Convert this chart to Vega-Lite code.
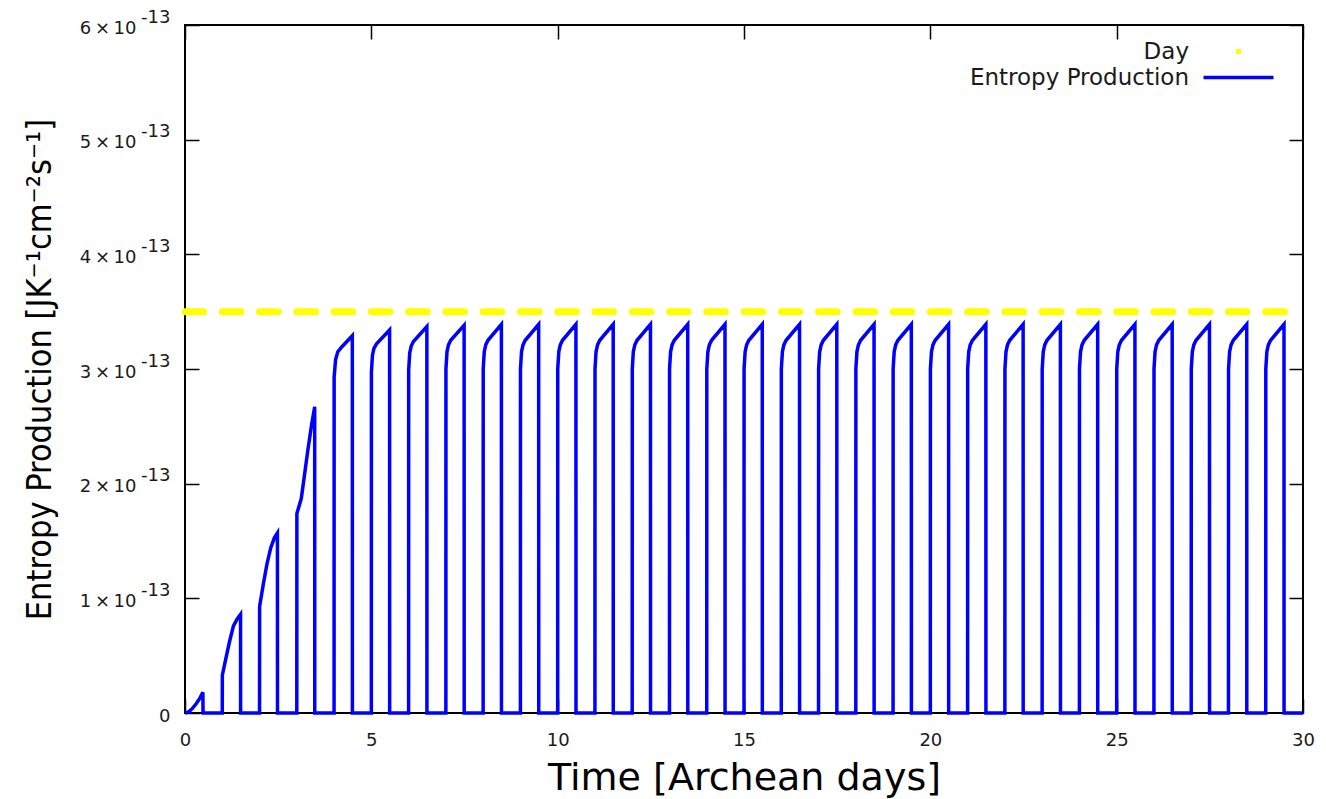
{
  "$schema": "https://vega.github.io/schema/vega-lite/v6.json",
  "width": 1118,
  "height": 688,
  "autosize": "none",
  "padding": {"left": 185, "top": 25, "right": 23, "bottom": 86},
  "background": "white",
  "config": {
    "view": {"stroke": "#000000", "strokeWidth": 2},
    "font": "DejaVu Sans",
    "axis": {"grid": false, "domain": false, "tickColor": "#000000", "tickWidth": 1.5, "labelColor": "#1a1a1a", "titleColor": "#000000", "titleFontWeight": "normal", "labelFont": "DejaVu Sans", "titleFont": "DejaVu Sans"}
  },
  "datasets": {
    "entropy": [
      {"t":0,"s":0},{"t":0.1,"s":0.01e-13},{"t":0.2,"s":0.04e-13},{"t":0.3,"s":0.08e-13},{"t":0.4,"s":0.13e-13},{"t":0.48,"s":0.18e-13},{"t":0.484,"s":0},
      {"t":1,"s":0},{"t":1.002,"s":0.33e-13},{"t":1.1,"s":0.48e-13},{"t":1.2,"s":0.63e-13},{"t":1.3,"s":0.76e-13},{"t":1.4,"s":0.82e-13},{"t":1.49,"s":0.86e-13},{"t":1.492,"s":0},
      {"t":2,"s":0},{"t":2.002,"s":0.93e-13},{"t":2.1,"s":1.12e-13},{"t":2.2,"s":1.30e-13},{"t":2.3,"s":1.44e-13},{"t":2.4,"s":1.53e-13},{"t":2.48,"s":1.57e-13},{"t":2.482,"s":0},
      {"t":3,"s":0},{"t":3.002,"s":1.74e-13},{"t":3.12,"s":1.87e-13},{"t":3.2,"s":2.06e-13},{"t":3.3,"s":2.30e-13},{"t":3.4,"s":2.52e-13},{"t":3.48,"s":2.67e-13},{"t":3.482,"s":0},
      {"t":4,"s":0},{"t":4.002,"s":2.93e-13},{"t":4.04,"s":3.08e-13},{"t":4.1,"s":3.15e-13},{"t":4.2,"s":3.19e-13},{"t":4.49,"s":3.29e-13},{"t":4.492,"s":0},
      {"t":5,"s":0},{"t":5.002,"s":2.97e-13},{"t":5.03,"s":3.12e-13},{"t":5.07,"s":3.18e-13},{"t":5.14,"s":3.22e-13},{"t":5.49,"s":3.34e-13},{"t":5.492,"s":0},
      {"t":6,"s":0},{"t":6.002,"s":2.99e-13},{"t":6.03,"s":3.14e-13},{"t":6.07,"s":3.20e-13},{"t":6.13,"s":3.24e-13},{"t":6.49,"s":3.37e-13},{"t":6.492,"s":0},
      {"t":7,"s":0},{"t":7.002,"s":3.0e-13},{"t":7.03,"s":3.15e-13},{"t":7.07,"s":3.21e-13},{"t":7.13,"s":3.25e-13},{"t":7.49,"s":3.38e-13},{"t":7.492,"s":0},
      {"t":8,"s":0},{"t":8.002,"s":3.0e-13},{"t":8.03,"s":3.15e-13},{"t":8.07,"s":3.21e-13},{"t":8.13,"s":3.25e-13},{"t":8.49,"s":3.39e-13},{"t":8.492,"s":0},
      {"t":9,"s":0},{"t":9.002,"s":3.0e-13},{"t":9.03,"s":3.15e-13},{"t":9.07,"s":3.21e-13},{"t":9.13,"s":3.25e-13},{"t":9.49,"s":3.39e-13},{"t":9.492,"s":0},
      {"t":10,"s":0},{"t":10.002,"s":3.0e-13},{"t":10.03,"s":3.15e-13},{"t":10.07,"s":3.21e-13},{"t":10.13,"s":3.25e-13},{"t":10.49,"s":3.39e-13},{"t":10.492,"s":0},
      {"t":11,"s":0},{"t":11.002,"s":3.0e-13},{"t":11.03,"s":3.15e-13},{"t":11.07,"s":3.21e-13},{"t":11.13,"s":3.25e-13},{"t":11.49,"s":3.39e-13},{"t":11.492,"s":0},
      {"t":12,"s":0},{"t":12.002,"s":3.0e-13},{"t":12.03,"s":3.15e-13},{"t":12.07,"s":3.21e-13},{"t":12.13,"s":3.25e-13},{"t":12.49,"s":3.39e-13},{"t":12.492,"s":0},
      {"t":13,"s":0},{"t":13.002,"s":3.0e-13},{"t":13.03,"s":3.15e-13},{"t":13.07,"s":3.21e-13},{"t":13.13,"s":3.25e-13},{"t":13.49,"s":3.39e-13},{"t":13.492,"s":0},
      {"t":14,"s":0},{"t":14.002,"s":3.0e-13},{"t":14.03,"s":3.15e-13},{"t":14.07,"s":3.21e-13},{"t":14.13,"s":3.25e-13},{"t":14.49,"s":3.39e-13},{"t":14.492,"s":0},
      {"t":15,"s":0},{"t":15.002,"s":3.0e-13},{"t":15.03,"s":3.15e-13},{"t":15.07,"s":3.21e-13},{"t":15.13,"s":3.25e-13},{"t":15.49,"s":3.39e-13},{"t":15.492,"s":0},
      {"t":16,"s":0},{"t":16.002,"s":3.0e-13},{"t":16.03,"s":3.15e-13},{"t":16.07,"s":3.21e-13},{"t":16.13,"s":3.25e-13},{"t":16.49,"s":3.39e-13},{"t":16.492,"s":0},
      {"t":17,"s":0},{"t":17.002,"s":3.0e-13},{"t":17.03,"s":3.15e-13},{"t":17.07,"s":3.21e-13},{"t":17.13,"s":3.25e-13},{"t":17.49,"s":3.39e-13},{"t":17.492,"s":0},
      {"t":18,"s":0},{"t":18.002,"s":3.0e-13},{"t":18.03,"s":3.15e-13},{"t":18.07,"s":3.21e-13},{"t":18.13,"s":3.25e-13},{"t":18.49,"s":3.39e-13},{"t":18.492,"s":0},
      {"t":19,"s":0},{"t":19.002,"s":3.0e-13},{"t":19.03,"s":3.15e-13},{"t":19.07,"s":3.21e-13},{"t":19.13,"s":3.25e-13},{"t":19.49,"s":3.39e-13},{"t":19.492,"s":0},
      {"t":20,"s":0},{"t":20.002,"s":3.0e-13},{"t":20.03,"s":3.15e-13},{"t":20.07,"s":3.21e-13},{"t":20.13,"s":3.25e-13},{"t":20.49,"s":3.39e-13},{"t":20.492,"s":0},
      {"t":21,"s":0},{"t":21.002,"s":3.0e-13},{"t":21.03,"s":3.15e-13},{"t":21.07,"s":3.21e-13},{"t":21.13,"s":3.25e-13},{"t":21.49,"s":3.39e-13},{"t":21.492,"s":0},
      {"t":22,"s":0},{"t":22.002,"s":3.0e-13},{"t":22.03,"s":3.15e-13},{"t":22.07,"s":3.21e-13},{"t":22.13,"s":3.25e-13},{"t":22.49,"s":3.39e-13},{"t":22.492,"s":0},
      {"t":23,"s":0},{"t":23.002,"s":3.0e-13},{"t":23.03,"s":3.15e-13},{"t":23.07,"s":3.21e-13},{"t":23.13,"s":3.25e-13},{"t":23.49,"s":3.39e-13},{"t":23.492,"s":0},
      {"t":24,"s":0},{"t":24.002,"s":3.0e-13},{"t":24.03,"s":3.15e-13},{"t":24.07,"s":3.21e-13},{"t":24.13,"s":3.25e-13},{"t":24.49,"s":3.39e-13},{"t":24.492,"s":0},
      {"t":25,"s":0},{"t":25.002,"s":3.0e-13},{"t":25.03,"s":3.15e-13},{"t":25.07,"s":3.21e-13},{"t":25.13,"s":3.25e-13},{"t":25.49,"s":3.39e-13},{"t":25.492,"s":0},
      {"t":26,"s":0},{"t":26.002,"s":3.0e-13},{"t":26.03,"s":3.15e-13},{"t":26.07,"s":3.21e-13},{"t":26.13,"s":3.25e-13},{"t":26.49,"s":3.39e-13},{"t":26.492,"s":0},
      {"t":27,"s":0},{"t":27.002,"s":3.0e-13},{"t":27.03,"s":3.15e-13},{"t":27.07,"s":3.21e-13},{"t":27.13,"s":3.25e-13},{"t":27.49,"s":3.39e-13},{"t":27.492,"s":0},
      {"t":28,"s":0},{"t":28.002,"s":3.0e-13},{"t":28.03,"s":3.15e-13},{"t":28.07,"s":3.21e-13},{"t":28.13,"s":3.25e-13},{"t":28.49,"s":3.39e-13},{"t":28.492,"s":0},
      {"t":29,"s":0},{"t":29.002,"s":3.0e-13},{"t":29.03,"s":3.15e-13},{"t":29.07,"s":3.21e-13},{"t":29.13,"s":3.25e-13},{"t":29.49,"s":3.39e-13},{"t":29.492,"s":0},
      {"t":30,"s":0}
    ],
    "day": [
      {"start":0,"end":0.5,"level":3.5e-13},{"start":1,"end":1.5,"level":3.5e-13},{"start":2,"end":2.5,"level":3.5e-13},{"start":3,"end":3.5,"level":3.5e-13},{"start":4,"end":4.5,"level":3.5e-13},
      {"start":5,"end":5.5,"level":3.5e-13},{"start":6,"end":6.5,"level":3.5e-13},{"start":7,"end":7.5,"level":3.5e-13},{"start":8,"end":8.5,"level":3.5e-13},{"start":9,"end":9.5,"level":3.5e-13},
      {"start":10,"end":10.5,"level":3.5e-13},{"start":11,"end":11.5,"level":3.5e-13},{"start":12,"end":12.5,"level":3.5e-13},{"start":13,"end":13.5,"level":3.5e-13},{"start":14,"end":14.5,"level":3.5e-13},
      {"start":15,"end":15.5,"level":3.5e-13},{"start":16,"end":16.5,"level":3.5e-13},{"start":17,"end":17.5,"level":3.5e-13},{"start":18,"end":18.5,"level":3.5e-13},{"start":19,"end":19.5,"level":3.5e-13},
      {"start":20,"end":20.5,"level":3.5e-13},{"start":21,"end":21.5,"level":3.5e-13},{"start":22,"end":22.5,"level":3.5e-13},{"start":23,"end":23.5,"level":3.5e-13},{"start":24,"end":24.5,"level":3.5e-13},
      {"start":25,"end":25.5,"level":3.5e-13},{"start":26,"end":26.5,"level":3.5e-13},{"start":27,"end":27.5,"level":3.5e-13},{"start":28,"end":28.5,"level":3.5e-13},{"start":29,"end":29.5,"level":3.5e-13}
    ]
  },
  "resolve": {"axis": {"x": "independent", "y": "independent"}},
  "layer": [
    {
      "data": {"name": "day"},
      "mark": {"type": "rule", "strokeWidth": 7, "strokeCap": "round"},
      "encoding": {
        "x": {"field": "start", "type": "quantitative", "scale": {"domain": [0, 30], "nice": false, "zero": false},
              "axis": {"orient": "bottom", "values": [0,5,10,15,20,25,30], "tickSize": -14, "labelPadding": 32, "labelFontSize": 18, "labelFlush": false,
                       "title": "Time [Archean days]", "titleFontSize": 38, "titlePadding": 10}},
        "x2": {"field": "end"},
        "y": {"field": "level", "type": "quantitative", "scale": {"domain": [0, 6e-13], "nice": false},
              "axis": {"orient": "left", "values": [0,1e-13,2e-13,3e-13,4e-13,5e-13,6e-13], "tickSize": -14, "labelPadding": 63, "labelFontSize": 18, "labelOffset": 3,
                       "labelExpr": "datum.value == 0 ? '' : round(datum.value*1e13) + '\u2009×\u200910'",
                       "title": "Entropy Production [JK⁻¹cm⁻²s⁻¹]", "titleFont": "DejaVu Sans Condensed, DejaVu Sans", "titleFontSize": 34, "titlePadding": 22}},
        "color": {"datum": "Day", "type": "nominal",
                  "scale": {"domain": ["Day", "Entropy Production"], "range": ["#ffff00", "#0000ff"]},
                  "legend": {
                    "title": null, "orient": "none", "legendX": 1042, "legendY": 15, "padding": 0,
                    "symbolType": "M-7,0H7", "symbolSize": 100, "symbolStrokeWidth": 3.5,
                    "rowPadding": 2,
                    "labelAlign": "right", "labelOffset": -61, "labelFontSize": 23, "labelColor": "#1a1a1a", "labelFont": "DejaVu Sans", "labelLimit": 400,
                    "encode": {"symbols": {"update": {
                      "shape": {"signal": "datum.value == 'Day' ? 'M-0.5,0H0.5' : 'M-7,0H7'"},
                      "stroke": {"signal": "datum.value == 'Day' ? '#ffff00' : '#0000ff'"},
                      "strokeWidth": {"signal": "datum.value == 'Day' ? 5 : 3.5"},
                      "opacity": {"value": 1}
                    }}}
                  }}
      }
    },
    {
      "data": {"name": "entropy"},
      "mark": {"type": "line", "strokeWidth": 3.5, "interpolate": "linear"},
      "encoding": {
        "x": {"field": "t", "type": "quantitative", "scale": {"domain": [0, 30], "nice": false, "zero": false},
              "axis": {"orient": "top", "values": [0,5,10,15,20,25,30], "tickSize": -14, "labels": false, "title": null}},
        "y": {"field": "s", "type": "quantitative", "scale": {"domain": [0, 6e-13], "nice": false},
              "axis": {"orient": "right", "values": [0,1e-13,2e-13,3e-13,4e-13,5e-13,6e-13], "tickSize": -14, "labels": false, "title": null}},
        "color": {"datum": "Entropy Production", "type": "nominal"}
      }
    },
    {
      "data": {"name": "day"},
      "mark": {"type": "rule", "opacity": 0},
      "encoding": {
        "x": {"field": "start", "type": "quantitative", "scale": {"domain": [0, 30], "nice": false, "zero": false}, "axis": null},
        "x2": {"field": "end"},
        "y": {"field": "level", "type": "quantitative", "scale": {"domain": [0, 6e-13], "nice": false},
              "axis": {"orient": "left", "values": [0,1e-13,2e-13,3e-13,4e-13,5e-13,6e-13], "ticks": false, "labelPadding": 15, "title": null,
                       "labelExpr": "datum.value == 0 ? '0' : '-13'",
                       "labelFontSize": 18,
                       "labelOffset": {"condition": {"test": "datum.value == 0", "value": 3}, "value": -8}}}
      }
    }
  ]
}
